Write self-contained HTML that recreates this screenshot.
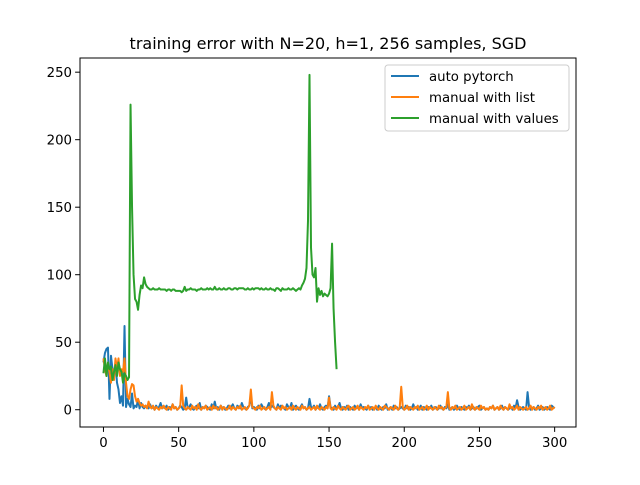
<!DOCTYPE html>
<html><head><meta charset="utf-8"><style>
body{margin:0;background:#fff}
svg text{font-family:"DejaVu Sans","Liberation Sans",sans-serif;fill:#000}
</style></head><body>
<svg id="chart" width="640" height="480" xmlns="http://www.w3.org/2000/svg">
<rect width="640" height="480" fill="#fff"/>
<text x="328" y="49" font-size="16" text-anchor="middle">training error with N=20, h=1, 256 samples, SGD</text>
<g id="plot"></g>
<rect x="80" y="58" width="496" height="369" fill="none" stroke="#000" stroke-width="1"/>
<g id="axes"></g>
<g>
<rect x="385" y="65" width="184" height="66" rx="3" fill="#fff" fill-opacity="0.8" stroke="#ccc"/>
<g><line x1="391" y1="76" x2="419" y2="76" stroke="#1f77b4" stroke-width="2"/><text x="429" y="81" font-size="13.3">auto pytorch</text></g>
<g><line x1="391" y1="97" x2="419" y2="97" stroke="#ff7f0e" stroke-width="2"/><text x="429" y="102" font-size="13.3">manual with list</text></g>
<g><line x1="391" y1="118" x2="419" y2="118" stroke="#2ca02c" stroke-width="2"/><text x="429" y="123" font-size="13.3">manual with values</text></g>
</g>
</svg>
<script>
const xTicks=[0,50,100,150,200,250,300];
const yTicks=[0,50,100,150,200,250];
const autoPytorch=[35,42,45,46,8,40,30,25,35,20,15,5,10,3,62,2,8,4,2,12,
1,3,2,8,1,5,2,1,3,2,1,4,1,2,0,3,1,2,5,1,
2,1,3,0,2,1,4,1,2,0,1,3,2,0,1,9,1,2,4,1,
0,2,3,1,5,0,2,1,3,2,1,0,4,1,6,1,2,0,3,1,
2,0,1,3,1,2,4,1,0,3,2,1,5,2,1,0,2,3,10,1,
2,1,0,3,1,4,2,1,0,2,5,1,3,2,1,0,4,1,3,2,
1,0,4,2,1,5,0,2,3,1,0,2,4,1,2,0,1,8,2,1,
3,0,2,1,4,1,0,2,3,1,10,2,1,0,3,1,2,5,1,0,
2,1,3,0,2,1,0,3,1,2,0,4,1,2,1,0,3,1,2,0,
1,2,0,3,1,0,2,1,4,0,1,2,0,3,1,2,0,1,2,1,
0,3,1,2,0,1,4,1,2,0,1,3,0,2,1,0,2,1,3,0,
1,2,0,1,3,1,0,2,1,4,0,1,2,0,1,3,1,0,2,1,
0,2,1,3,0,1,2,0,1,2,3,0,1,2,0,1,0,2,1,3,
0,1,2,0,1,3,0,2,1,0,1,2,0,3,1,7,2,0,1,2,
1,0,13,2,0,1,2,0,1,3,0,1,2,0,1,2,1,0,3,2,1];
const manualList=[38,30,25,35,28,20,30,22,38,30,38,25,30,28,38,20,10,8,15,19,
18,10,6,8,5,3,4,2,3,1,6,2,1,3,0,2,1,0,2,1,
3,1,0,2,1,0,4,1,2,0,1,2,18,3,1,0,2,1,0,3,
1,2,0,4,1,0,2,1,3,0,1,2,0,3,1,2,0,1,3,0,
2,1,0,1,3,0,2,1,0,2,1,3,0,1,2,0,1,3,15,2,
1,0,2,1,3,0,1,2,0,1,2,0,13,3,1,0,2,1,0,3,
1,2,0,1,2,0,3,1,0,2,1,0,3,1,2,0,1,2,0,1,
2,0,3,1,0,2,1,0,2,1,9,1,0,2,1,0,3,1,0,2,
1,0,2,3,0,1,2,0,1,3,0,2,1,0,2,1,3,0,1,2,
0,3,1,0,2,1,0,3,2,1,0,2,1,0,3,1,0,2,17,2,
0,1,3,0,2,1,0,2,1,3,0,1,2,0,1,3,0,2,1,0,
2,1,0,3,1,2,0,1,2,13,1,0,2,1,3,0,1,2,0,1,
3,0,1,2,0,4,1,0,2,1,0,3,1,2,0,1,0,2,1,3,
0,1,2,0,3,1,0,2,1,0,4,1,2,0,1,3,0,2,1,0,
1,2,0,1,3,0,2,1,0,2,1,3,0,1,2,0,1,3,0,1,2];
const manualValues=[27,38,25,35,30,32,22,28,33,25,35,30,28,20,27,25,22,24,
226,150,100,82,80,74,85,92,90,98,93,
91,90,89,89,90,89,89,89,90,89,89,89,89,88,89,89,88,89,89,88,88,
88,88,87,88,91,88,89,89,90,89,89,89,88,89,89,90,89,89,89,90,89,
90,89,89,91,89,89,90,89,89,90,89,89,90,90,89,89,90,90,89,90,90,
90,90,89,89,90,89,89,90,89,90,90,90,89,90,89,89,90,89,89,90,89,
89,88,90,90,89,88,90,89,89,89,90,89,89,90,89,88,89,90,89,92,94,97,105,
140,248,120,100,98,105,80,90,85,88,84,86,85,84,86,90,123,75,50,30];

const X0=80,X1=576,Y0=58,Y1=427,xmin=-15.6,xmax=314.2,ymin=-12.8,ymax=260.5;
const sx=v=>X0+(v-xmin)/(xmax-xmin)*(X1-X0);
const sy=v=>Y1-(v-ymin)/(ymax-ymin)*(Y1-Y0);
const NS='http://www.w3.org/2000/svg';
const plot=document.getElementById('plot'),axes=document.getElementById('axes');
function line(data,color,name){
  const p=document.createElementNS(NS,'polyline');
  p.setAttribute('points',data.map((v,i)=>sx(i).toFixed(2)+','+sy(v).toFixed(2)).join(' '));
  p.setAttribute('fill','none');p.setAttribute('stroke',color);p.setAttribute('stroke-width','2');
  p.setAttribute('stroke-linejoin','round');
  
  
  plot.appendChild(p);
}
line(autoPytorch,'#1f77b4','line-auto-pytorch');
line(manualList,'#ff7f0e','line-manual-with-list');
line(manualValues,'#2ca02c','line-manual-with-values');
xTicks.forEach(t=>{
  const g=document.createElementNS(NS,'g');
  
  
  const x=sx(t);
  g.innerHTML=`<line x1="${x}" y1="${Y1}" x2="${x}" y2="${Y1+4.9}" stroke="#000"/><text x="${x}" y="${Y1+20}" font-size="13.3" text-anchor="middle">${t}</text>`;
  axes.appendChild(g);
});
yTicks.forEach(t=>{
  const g=document.createElementNS(NS,'g');
  
  
  const y=sy(t);
  g.innerHTML=`<line x1="${X0-4.9}" y1="${y}" x2="${X0}" y2="${y}" stroke="#000"/><text x="${X0-8}" y="${y+5}" font-size="13.3" text-anchor="end">${t}</text>`;
  axes.appendChild(g);
});
</script>
</body></html>
